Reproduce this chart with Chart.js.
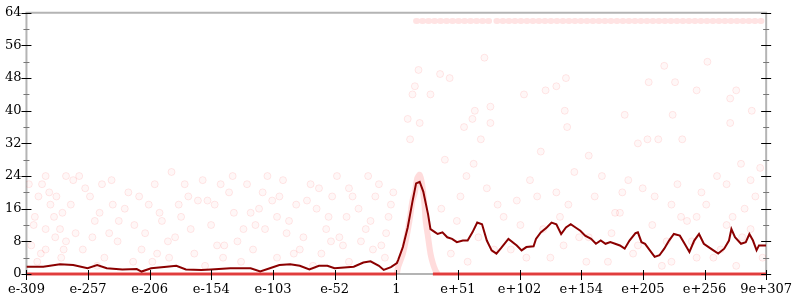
<!DOCTYPE html>
<html>
<head>
<meta charset="utf-8">
<script src="https://cdn.jsdelivr.net/npm/chart.js@4"></script>
<style>
  html, body { margin: 0; padding: 0; background: #fff; }
  canvas { display: block; }
</style>
</head>
<body>
<canvas id="myChart" width="800" height="300"></canvas>
<script>
// x axis is the decimal exponent, tick labels as printed
const xTickVals = [-309, -257.6, -206.2, -154.8, -103.3, -51.9, -0.5, 50.9, 102.3, 153.8, 205.2, 256.6, 308];
const xTickLabels = ['e-309', 'e-257', 'e-206', 'e-154', 'e-103', 'e-52', '1', 'e+51', 'e+102', 'e+154', 'e+205', 'e+256', '9e+307'];
const yTickVals = [0, 8, 16, 24, 32, 40, 48, 56, 64];

// running average (dark red line)
const avgExp = [-309, -295, -281, -270, -258, -250, -242, -229, -217, -213,
  -205, -192, -184, -176, -163, -155, -139, -122, -114, -106,
  -98, -89, -81, -73, -65, -58, -52, -44, -36, -28,
  -22, -15, -11, -5, 0, 1, 5, 9, 13, 16,
  19, 22, 26, 28, 32, 34, 38, 42, 46, 50,
  55, 59, 63, 67, 71, 75, 79, 83, 87, 93,
  100, 104, 108, 114, 116, 120, 125, 129, 133, 137,
  141, 145, 149, 153, 157, 162, 166, 170, 174, 178,
  182, 186, 190, 194, 199, 201, 204, 207, 211, 215,
  219, 223, 227, 231, 236, 240, 244, 248, 252, 256,
  260, 264, 268, 273, 277, 279, 282, 287, 291, 294,
  297, 300, 302, 308];
const avgVal = [1.8, 1.8, 2.4, 2.2, 1.4, 2.2, 1.4, 1.1, 1.2, 0.6,
  1.4, 1.8, 2.0, 1.1, 1.0, 1.1, 1.4, 1.4, 0.6, 1.4,
  2.2, 2.4, 2.0, 1.1, 2.0, 2.0, 1.4, 1.6, 1.8, 2.8,
  3.1, 2.0, 1.0, 1.7, 2.7, 3.4, 6.6, 11.4, 17.8, 22.2,
  22.6, 20.2, 14.6, 11.0, 10.2, 9.8, 10.2, 9.0, 8.6, 7.8,
  8.2, 8.2, 10.2, 12.6, 12.2, 8.2, 5.8, 5.0, 6.4, 8.6,
  7.0, 5.8, 6.6, 6.8, 8.6, 10.2, 11.4, 12.6, 12.2, 9.8,
  11.4, 12.2, 11.4, 10.6, 9.4, 8.6, 7.4, 8.2, 7.4, 7.8,
  7.4, 7.0, 6.2, 8.2, 10.0, 10.2, 7.8, 7.4, 5.8, 4.2,
  4.6, 6.2, 8.2, 9.8, 9.4, 7.4, 5.4, 8.2, 9.8, 7.4,
  6.6, 5.8, 5.0, 6.2, 8.2, 11.0, 9.0, 7.4, 7.8, 9.8,
  8.2, 5.8, 7.0, 7.0];

// individual samples (faint dots)
const ptExp = [-307, -296, -293, -276, -270, -265, -299, -284, -279, -289,
  -302, -293, -281, -305, -293, -276, -262, -254, -248, -256,
  -246, -237, -232, -224, -219, -213, -207, -202, -196, -191,
  -188, -182, -177, -172, -166, -137, -108, -147, -158, -128,
  -122, -136, -144, -112, -98, -100, -92, -81, -75, -67,
  -65, -59, -54, -48, -42, -40, -32, -26, -24, -18,
  -13, -7, -5, -300, -280, -250, -220, -190, -160, -130,
  -100, -70, -40, -10, -285, -240, -200, -150, -118, -86,
  -55, -20, 64, 40, 53, 75, 89, 100, 111, 122,
  133, 143, 81, 108, 59, 139, 37, 18, 73, 36,
  44, 15, 13, 28, 133, 141, 124, 106, 78, 65,
  9, 63, 140, 19, 78, 56, 142, 11, 70, 223,
  259, 210, 232, 283, 278, 296, 230, 278, 209, 218,
  238, 201, 171, 193, 205, 182, 229, 213, 237, 254,
  267, 275, 287, 295, 275, 295, 246, 201, 264, 229,
  176, 283, 221, 188, 303, 160, 250, 290,
  -303, -297, -290, -286, -278, -272, -268, -260, -252, -244,
  -238, -233, -227, -215, -210, -204, -198, -185, -180, -174,
  -169, -162, -155, -152, -145, -140, -133, -125, -120, -115,
  -110, -104, -95, -90, -84, -78, -72, -63, -57, -50,
  -45, -37, -30, -22, -15, -9, -3,
  45, 50, 58, 68, 84, 95, 103, 117, 128, 136,
  148, 152, 158, 165, 179, 186, 197, 215, 225, 234,
  242, 250, 258, 270, 280, 288, 299, 305, 190, 250,
  120, 160];
const ptVal = [22, 22, 24, 24, 23, 24, 19, 19, 15, 17,
  14, 11, 11, 7, 6, 8, 6, 9, 15, 19,
  22, 17, 13, 20, 12, 6, 17, 22, 13, 8,
  25, 17, 22, 11, 18, 24, 24, 22, 18, 11,
  15, 15, 7, 20, 19, 14, 10, 6, 18, 16,
  21, 11, 19, 9, 14, 21, 16, 11, 24, 19,
  7, 14, 17, 3, 4, 2, 3, 4, 2, 3,
  4, 2, 3, 4, 9, 10, 5, 7, 12, 5,
  8, 6, 27, 28, 19, 21, 14, 18, 23, 11,
  20, 17, 6, 4, 3, 7, 16, 50, 53, 49,
  48, 46, 44, 44, 46, 48, 45, 44, 41, 40,
  38, 38, 40, 37, 37, 36, 36, 33, 33, 51,
  52, 47, 47, 45, 43, 40, 39, 37, 33, 33,
  33, 32, 24, 23, 21, 15, 17, 12, 14, 20,
  24, 22, 27, 23, 12, 11, 8, 7, 4, 3,
  3, 2, 2, 20, 26, 9, 14, 16,
  12, 5, 20, 14, 6, 17, 10, 21, 13, 4,
  23, 8, 16, 19, 10, 3, 15, 9, 14, 19,
  5, 23, 12, 17, 4, 20, 8, 22, 6, 16,
  11, 18, 23, 13, 17, 9, 22, 5, 14, 24,
  7, 19, 8, 13, 22, 10, 20,
  5, 13, 24, 9, 17, 6, 12, 19, 4, 14,
  25, 9, 3, 19, 10, 15, 5, 19, 8, 22,
  13, 4, 17, 6, 14, 9, 19, 4, 39, 45,
  30, 29];

// dense groups of samples
const bellExp = [0, 1, 5, 8, 11, 13, 15, 17, 19, 21, 23, 24, 26, 28, 30, 32, 34];
const bellVal = [0, 1.7, 5, 9, 14, 18, 20, 23.5, 24.3, 22, 17, 13, 9, 5, 2.6, 1, 0];
const zeroExp = [-309, 0, 15, 30, 308];
const zeroVal = [0, 0, null, 0, 0];
const topExp = [16, 79, 81, 83, 308];
const topVal = [62, 62, null, 62, 62];

const toPts = (xs, ys) => xs.map((x, i) => ({ x: x, y: ys[i] }));

const frame = {
  id: 'frame',
  beforeDatasetsDraw(chart) {
    const { ctx, chartArea: a } = chart;
    ctx.save();
    ctx.strokeStyle = '#b4b4b4';
    ctx.lineWidth = 2;
    ctx.beginPath();
    ctx.moveTo(a.left, a.bottom);
    ctx.lineTo(a.left, a.top);
    ctx.lineTo(a.right, a.top);
    ctx.lineTo(a.right, a.bottom);
    ctx.lineTo(a.left, a.bottom);
    ctx.stroke();
    ctx.restore();
  },
  afterDatasetsDraw(chart) {
    const { ctx, chartArea: a, scales } = chart;
    ctx.save();
    ctx.lineWidth = 1;
    for (let v = 0; v <= 64; v += 4) {
      const y = Math.round(scales.y.getPixelForValue(v)) + 0.5;
      const major = v % 8 === 0;
      ctx.strokeStyle = major ? '#000' : '#777';
      const l = major ? 5 : 3;
      ctx.beginPath();
      ctx.moveTo(a.left - l, y); ctx.lineTo(a.left + l, y);
      ctx.moveTo(a.right - l, y); ctx.lineTo(a.right + l, y);
      ctx.stroke();
    }
    ctx.strokeStyle = '#000';
    xTickVals.forEach(v => {
      const x = Math.round(scales.x.getPixelForValue(v)) + 0.5;
      ctx.beginPath();
      ctx.moveTo(x, a.bottom - 4); ctx.lineTo(x, a.bottom + 6);
      ctx.stroke();
    });
    ctx.restore();
  }
};

const ctx = document.getElementById('myChart');

new Chart(ctx, {
  type: 'scatter',
  data: {
    datasets: [
      {
        label: 'samples',
        data: toPts(ptExp, ptVal),
        pointRadius: 3.5,
        backgroundColor: 'rgba(255,0,0,0.03)',
        borderColor: 'rgba(255,0,0,0.09)',
        borderWidth: 1,
        order: 5
      },
      {
        label: 'peak',
        type: 'line',
        data: toPts(bellExp, bellVal),
        borderColor: 'rgba(255,60,60,0.18)',
        borderWidth: 6,
        pointRadius: 0,
        tension: 0.3,
        order: 4
      },
      {
        label: 'top',
        type: 'line',
        data: toPts(topExp, topVal),
        borderColor: 'rgba(255,60,60,0.14)',
        borderWidth: 6,
        borderCapStyle: 'round',
        borderDash: [1, 5],
        pointRadius: 0,
        spanGaps: false,
        order: 4
      },
      {
        label: 'zero',
        type: 'line',
        data: toPts(zeroExp, zeroVal),
        borderColor: 'rgba(232,40,40,0.85)',
        borderWidth: 3,
        pointRadius: 0,
        spanGaps: false,
        clip: false,
        order: 3
      },
      {
        label: 'average',
        type: 'line',
        data: toPts(avgExp, avgVal),
        borderColor: '#8b0000',
        borderWidth: 2,
        pointRadius: 0,
        tension: 0,
        order: 1
      }
    ]
  },
  options: {
    responsive: false,
    animation: false,
    layout: { padding: { top: 8, right: 27, left: 0, bottom: 0 } },
    plugins: { legend: { display: false }, tooltip: { enabled: false } },
    font: { family: 'DejaVu Serif' },
    scales: {
      x: {
        type: 'linear',
        min: -309,
        max: 308,
        grid: { display: false, drawTicks: false },
        border: { display: false },
        afterBuildTicks: s => { s.ticks = xTickVals.map(v => ({ value: v })); },
        afterFit: s => { s.height = 26; },
        ticks: {
          autoSkip: false,
          maxRotation: 0,
          padding: 8,
          color: '#000',
          font: { family: 'DejaVu Serif', size: 13 },
          callback: (v, i) => xTickLabels[i]
        }
      },
      y: {
        min: 0,
        max: 64,
        grid: { display: false, drawTicks: false },
        border: { display: false },
        afterBuildTicks: s => { s.ticks = yTickVals.map(v => ({ value: v })); },
        afterFit: s => { s.width = 23; },
        ticks: {
          padding: 5,
          color: '#000',
          font: { family: 'DejaVu Serif', size: 13 }
        }
      }
    }
  },
  plugins: [frame]
});
</script>
</body>
</html>
